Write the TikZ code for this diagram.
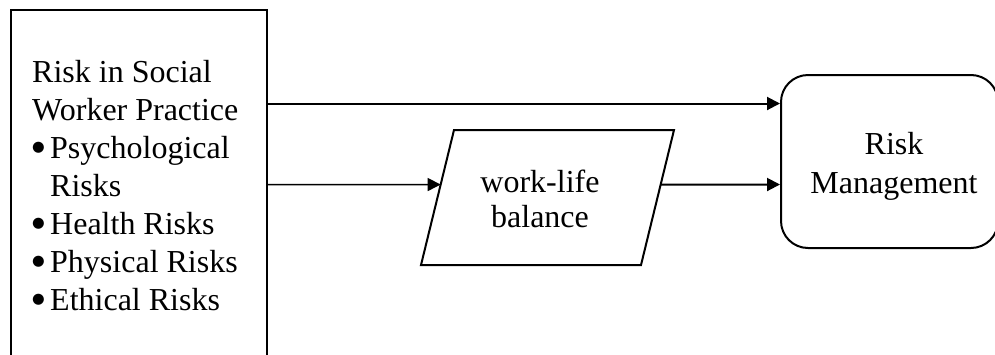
\documentclass[tikz,border=0pt]{standalone}
\usepackage{fontspec}
\setmainfont{Liberation Serif}
\newfontfamily\dotfont{DejaVu Sans}
\usetikzlibrary{arrows.meta,calc}
\newcommand\itemdot{\makebox[18pt][l]{\raisebox{6.5pt}{\fontsize{14.5}{14.5}\dotfont ●}}}
\begin{document}
\begin{tikzpicture}[x=1pt,y=-1pt,
  box/.style={draw, line width=2pt},
  lbl/.style={font=\fontsize{32}{38}\selectfont, inner sep=0pt},
  conn/.style={line width=2pt, -{Triangle[length=13pt,width=13pt]}},
]
\useasboundingbox (0,0) rectangle (995,354);
\clip (0,0) rectangle (995,354);

% source box with the list of risks
\node[box, minimum width=256pt, minimum height=360pt, inner sep=0pt] (lbox) at (139,190) {};
\node[lbl, align=left, anchor=north west] (ltext) at (32,60)
  {Risk in Social\\Worker Practice\\\itemdot Psychological\\\hspace*{18pt}Risks\\
   \itemdot Health Risks\\\itemdot Physical Risks\\\itemdot Ethical Risks};

% mediating factor (parallelogram)
\coordinate (ptl) at (454,130);
\coordinate (ptr) at (674,130);
\coordinate (pbr) at (641,265);
\coordinate (pbl) at (421,265);
\draw[line width=2pt] (ptl) -- (ptr) -- (pbr) -- (pbl) -- cycle;
\node[lbl, align=center, font=\fontsize{32}{35.5}\selectfont] (wlb) at (540,199) {work-life\\balance};

% outcome box
\node[box, rounded corners=27pt, minimum width=217pt, minimum height=173pt,
      inner sep=0pt] (rm) at (889.5,161.5) {};
\node[lbl, align=center, font=\fontsize{32}{39}\selectfont] (rmtext) at (894,166)
  {Risk\\Management};

% connectors
\coordinate (upper) at (0,103.5);
\coordinate (lower) at (0,184.5);
\draw[conn] (lbox.east |- upper) -- (rm.west |- upper);
\draw[conn, line width=1.5pt] (lbox.east |- lower) -- ($(ptl)!0.404!(pbl)$);
\draw[conn] ($(ptr)!0.404!(pbr)$) -- (rm.west |- lower);
\end{tikzpicture}
\end{document}
